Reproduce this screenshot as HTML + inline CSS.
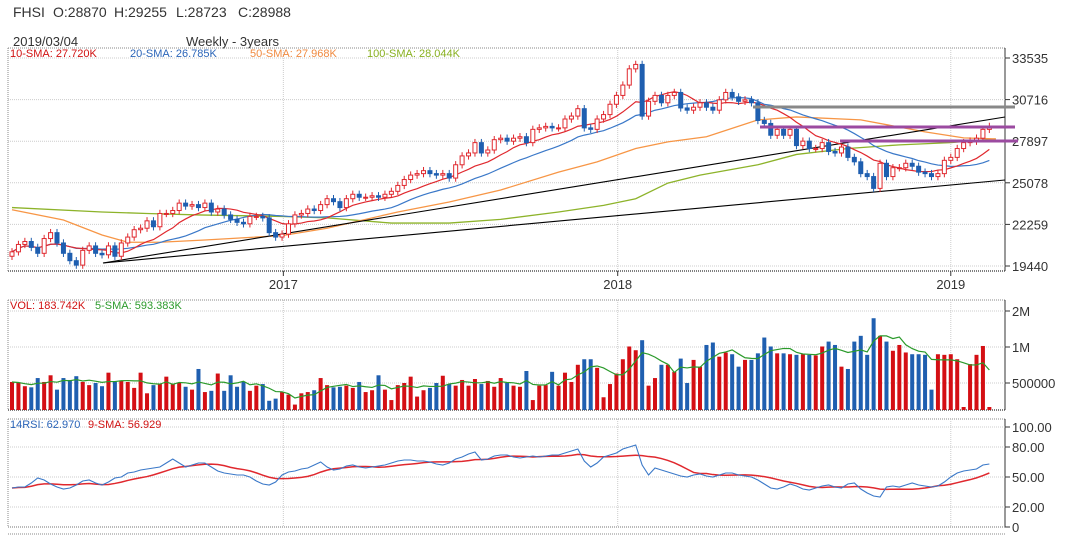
<!DOCTYPE html>
<html><head><meta charset="utf-8"><style>
body{margin:0;background:#fff;width:1074px;height:539px;overflow:hidden;font-family:"Liberation Sans",sans-serif}
svg{display:block}
</style></head><body>
<svg id="c" width="1074" height="539" xmlns="http://www.w3.org/2000/svg"></svg>
<script>
const closes=[20400,20900,21100,20700,20300,21300,21700,21000,20300,19800,
19500,20500,20800,20300,20200,20800,20100,21000,21400,21900,
22000,22500,22100,23000,23000,23200,23700,23500,23600,23400,
23700,23100,23300,22900,22600,22400,22300,22800,22800,22700,
21700,21400,21600,22300,22900,23000,23300,23200,23600,24000,
23800,23400,24000,24300,24100,24100,24200,24100,24300,24500,
24900,25300,25600,25700,25900,25700,25600,25700,25400,26300,
26900,27100,27800,27100,27300,28000,28100,27900,28100,28200,
27800,28700,28800,28900,28800,28800,29400,29600,30100,28800,
28700,29400,29700,30400,31000,31700,32800,33100,29600,30600,
31000,30500,31000,31200,30150,30000,30200,30500,30200,30000,
30700,31200,30900,30600,30700,30500,29300,29100,28300,28700,
28300,28700,27600,27900,27400,27400,27800,27200,27100,27500,
26800,26500,25700,25500,24700,26400,25500,26100,26100,26400,
26200,25800,25700,25500,25700,26600,26800,27400,27800,27900,
28100,28700,28900];
const volumes=[0.51,0.50,0.47,0.46,0.55,0.51,0.58,0.44,0.55,0.53,
0.57,0.51,0.48,0.50,0.47,0.61,0.51,0.52,0.51,0.455,
0.61,0.41,0.48,0.49,0.565,0.49,0.50,0.465,0.44,0.655,
0.42,0.43,0.60,0.43,0.58,0.465,0.51,0.43,0.475,0.49,
0.355,0.37,0.42,0.40,0.33,0.41,0.42,0.435,0.55,0.48,
0.46,0.465,0.475,0.455,0.51,0.42,0.435,0.58,0.44,0.36,
0.48,0.50,0.565,0.385,0.435,0.455,0.50,0.575,0.49,0.475,
0.53,0.475,0.54,0.49,0.52,0.465,0.55,0.50,0.475,0.465,
0.63,0.36,0.475,0.48,0.62,0.475,0.61,0.51,0.71,0.79,
0.79,0.67,0.38,0.49,0.60,0.79,1.01,0.94,1.14,0.475,
0.55,0.71,0.71,0.62,0.80,0.50,0.78,0.685,1.04,1.09,
0.83,0.90,0.87,0.685,0.78,0.78,0.885,1.20,1.01,0.885,
0.885,0.87,0.86,0.87,0.86,0.85,1.01,1.11,1.04,0.685,
0.655,1.11,1.24,0.86,1.74,1.24,1.11,0.93,1.04,0.90,
0.87,0.87,0.86,0.44,0.87,0.86,0.87,0.79,0.30,0.72,
0.86,1.02,0.31];
const rsi=[39,40,40,44,49,47,43,40,38,39,
42,46,47,44,42,45,49,50,54,55,
57,58,59,60,64,68,64,60,62,64,
64,60,56,54,53,52,52,50,46,43,
42,45,52,55,56,58,59,62,65,60,
57,58,61,62,60,59,60,61,62,64,
66,67,67,66,66,65,63,62,64,68,
70,73,75,67,68,71,72,72,70,69,
70,71,70,71,72,72,74,76,78,66,
60,64,70,72,74,78,80,82,62,52,
59,57,55,53,51,50,52,53,51,50,
52,54,54,52,51,50,47,43,39,38,
40,43,41,38,37,39,41,42,40,39,
43,44,38,34,31,30,40,41,40,42,
44,42,41,40,41,45,50,54,56,57,
58,62,63];
const sma50Weeks=[0,8,14,18,23,30,42,49,60,68,76,85,91,97,102,108,116,122,132,142,148,153];
const sma50Vals=[23250,22560,21540,21050,21050,21200,21500,22000,23100,23780,24590,25800,26500,27400,27850,28200,29340,29540,29340,28530,28120,28050];
const sma100Weeks=[0,14,21,29,42,49,59,68,76,85,92,97,102,107,116,122,130,138,146,153];
const sma100Vals=[23400,23100,23000,22900,22800,22700,22350,22350,22600,23100,23550,24000,25060,25600,26300,27000,27400,27650,27800,28050];
const priceTicks=[33535,30716,27897,25078,22259,19440];
const volTickVals=[2,1,0.5];
const volTickLabels=["2M","1M","500000"];
const rsiTicks=[100,80,50,20,0];
const rsiTickLabels=["100.00","80.00","50.00","20.00","0"];
const yearWeeks=[42.2,94.2,146];
const yearLabels=["2017","2018","2019"];

const NS="http://www.w3.org/2000/svg",svg=document.getElementById('c');
function el(t,a,p){const e=document.createElementNS(NS,t);for(const k in a)e.setAttribute(k,a[k]);(p||svg).appendChild(e);return e;}
function tx(s,a,p){const e=el('text',a,p);e.textContent=s;return e;}
const X=i=>12+i*6.43;
const PY=p=>58+(33535-p)*(208/14095);
const VY=v=>Math.min(410,347-36*Math.log2(v));
const RY=v=>527-v;
const L=8,R=1005;

// header
const hdr=el('g',{});
[["FHSI",13],["O:28870",53],["H:29255",114],["L:28723",176],["C:28988",238]].forEach(a=>tx(a[0],{x:a[1],y:17,'font-size':14,fill:'#333'},hdr));
tx("2019/03/04",{x:13,y:46,'font-size':13,fill:'#333'});
tx("Weekly - 3years",{x:186,y:46,'font-size':13,fill:'#333'});

function panel(name,t,b){
  const g=el('g',{});
  el('line',{x1:L,y1:t,x2:R,y2:t,stroke:'#888','stroke-dasharray':'1,1'},g);
  el('line',{x1:L,y1:b,x2:R,y2:b,stroke:'#555','stroke-dasharray':'1,1','stroke-width':1.5},g);
  el('line',{x1:L,y1:t,x2:L,y2:b,stroke:'#888','stroke-dasharray':'1,1'},g);
  el('line',{x1:R,y1:t,x2:R,y2:b,stroke:'#333'},g);
  yearWeeks.forEach(w=>el('line',{x1:X(w),y1:t,x2:X(w),y2:b,stroke:'#ccc','stroke-dasharray':'1,1'},g));
  return g;
}
function hgrid(g,y,label){
  el('line',{x1:L,y1:y,x2:R,y2:y,stroke:'#ccc','stroke-dasharray':'1,1'},g);
  el('line',{x1:R,y1:y,x2:R+5,y2:y,stroke:'#333'},g);
  const t=tx(label,{x:1012,y:y+5,'font-size':13,fill:'#333'},g);
  
  
}
const mp=panel('price-panel',48,271);
priceTicks.forEach(p=>hgrid(mp,PY(p),String(p)));
yearWeeks.forEach((w,k)=>{const t=tx(yearLabels[k],{x:X(w),y:289,'font-size':13,fill:'#333','text-anchor':'middle'});

el('line',{x1:X(w),y1:271,x2:X(w),y2:276,stroke:'#333'});});
const leg=el('g',{});
[["10-SMA: 27.720K",10,'#d01010'],["20-SMA: 26.785K",130,'#2a64b8'],["50-SMA: 27.968K",250,'#f08a40'],["100-SMA: 28.044K",367,'#88b020']].forEach(a=>tx(a[0],{x:a[1],y:57,'font-size':11,fill:a[2]},leg));

function sma(arr,n){return arr.map((v,i)=>{const s=arr.slice(Math.max(0,i-n+1),i+1);return s.reduce((a,b)=>a+b,0)/s.length;});}
function poly(pts,stroke,w,name){const d=pts.map(p=>p.join(',')).join(' ');const e=el('polyline',{points:d,fill:'none',stroke:stroke,'stroke-width':w});return e;}

poly(sma100Weeks.map((w,k)=>[X(w),PY(sma100Vals[k])]),'#8db32a',1.3,'sma100-line');
poly(sma50Weeks.map((w,k)=>[X(w),PY(sma50Vals[k])]),'#f79646',1.3,'sma50-line');
el('line',{x1:103,y1:263,x2:1005,y2:117,stroke:'#000','stroke-width':1.1});
el('line',{x1:103,y1:263,x2:1005,y2:180,stroke:'#000','stroke-width':1.1});
const s20=sma(closes,20),s10=sma(closes,10);
poly(s20.map((v,i)=>[X(i),PY(v)]),'#3a78c8',1.2,'sma20-line');
poly(s10.map((v,i)=>[X(i),PY(v)]),'#e0282e',1.2,'sma10-line');
closes.forEach((c,i)=>{
  const o=i?closes[i-1]:c-300,up=c>=o,x=X(i);
  const hi=Math.max(o,c)+250,lo=Math.min(o,c)-250;
  const col=up?'#e0282e':'#1f5fb0';
  const g=el('g',{});
  
  
  el('line',{x1:x,y1:PY(hi),x2:x,y2:PY(lo),stroke:col},g);
  const y1=PY(Math.max(o,c)),h=Math.max(1,PY(Math.min(o,c))-y1);
  el('rect',{x:x-2,y:y1,width:4,height:h,fill:up?'#fff':col,stroke:col},g);
});
el('line',{x1:753,y1:107,x2:1015,y2:107,stroke:'#888','stroke-width':3});
el('line',{x1:760,y1:127,x2:1015,y2:127,stroke:'#9b4aa0','stroke-width':3});
el('line',{x1:840,y1:141,x2:1018,y2:141,stroke:'#9b4aa0','stroke-width':3});

const vp=panel('volume-panel',300,410);
volTickVals.forEach((v,k)=>hgrid(vp,VY(v),volTickLabels[k]));
volumes.forEach((v,i)=>{
  const o=i?closes[i-1]:closes[i]-300,up=closes[i]>=o;
  const y=Math.min(VY(v),407);
  const b=el('rect',{x:X(i)-2,y:y,width:4,height:410-y,fill:up?'#d40f14':'#1f5fb0'});
  
  
});
poly(sma(volumes,5).map((v,i)=>[X(i),VY(v)]),'#2a9a2a',1.2,'volume-sma-line');
tx("VOL: 183.742K",{x:10,y:309,'font-size':11,fill:'#d01010'});
tx("5-SMA: 593.383K",{x:95,y:309,'font-size':11,fill:'#2a9a2a'});

const rp=panel('rsi-panel',419,527);
rsiTicks.forEach((v,k)=>hgrid(rp,RY(v),rsiTickLabels[k]));
poly(sma(rsi,9).map((v,i)=>[X(i),RY(v)]),'#e0282e',1.5,'rsi-sma-line');
poly(rsi.map((v,i)=>[X(i),RY(v)]),'#3a78c8',1.1,'rsi-line');
tx("14RSI: 62.970",{x:10,y:428,'font-size':11,fill:'#2a64b8'});
tx("9-SMA: 56.929",{x:88,y:428,'font-size':11,fill:'#d01010'});
el('line',{x1:L,y1:534,x2:R,y2:534,stroke:'#888','stroke-dasharray':'1,1'});
</script>
</body></html>
